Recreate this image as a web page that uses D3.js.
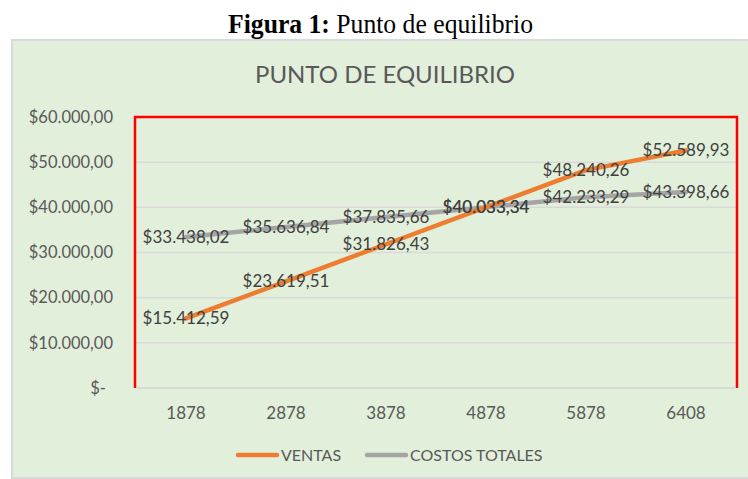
<!DOCTYPE html>
<html>
<head>
<meta charset="utf-8">
<script src="https://cdn.jsdelivr.net/npm/d3@7"></script>
<style>
  body { margin: 0; background: #fff; }
  svg { display: block; }
</style>
</head>
<body>
<div id="chart-area"></div>
<script>
// datos del grafico
var categories = ['1878', '2878', '3878', '4878', '5878', '6408'];
var ventas = [15412.59, 23619.51, 31826.43, 40033.34, 48240.26, 52589.93];
var costosTotales = [33438.02, 35636.84, 37835.66, 40033.34, 42233.29, 43398.66];
var yTicks = [0, 10000, 20000, 30000, 40000, 50000, 60000];
var seriesNames = ['VENTAS', 'COSTOS TOTALES'];

var W = 748, H = 479;
var plot = { left: 136, right: 736, top: 117, bottom: 388 };

var es = d3.formatLocale({ decimal: ',', thousands: '.', grouping: [3], currency: ['$', ''] });
var fmt = es.format('$,.2f');

var svg = d3.select('#chart-area')
    .append('svg')
    .attr('width', W)
    .attr('height', H);

// titulo de la figura
var fig = svg.append('text')
    .attr('x', 228)
    .attr('y', 33)
    .attr('textLength', 305)
    .attr('lengthAdjust', 'spacingAndGlyphs')
    .attr('font-family', 'Liberation Serif, Times New Roman, serif')
    .attr('font-size', '27px')
    .attr('fill', '#000');
fig.append('tspan').attr('font-weight', 'bold').text('Figura 1:');
fig.append('tspan').text(' Punto de equilibrio');

// fondo del grafico
svg.append('rect')
    .attr('x', 12)
    .attr('y', 40)
    .attr('width', W - 12 + 5)
    .attr('height', H - 40 - 1)
    .attr('fill', '#E2EFDA')
    .attr('stroke', '#D9D9D9')
    .attr('stroke-width', 2);

svg.append('text')
    .text('PUNTO DE EQUILIBRIO')
    .attr('x', 385)
    .attr('y', 83)
    .attr('text-anchor', 'middle')
    .attr('font-family', 'Lato, sans-serif')
    .attr('font-size', '24px')
    .attr('fill', '#595959');

var xScale = d3.scaleBand()
    .domain(categories)
    .range([plot.left, plot.right]);

var yScale = d3.scaleLinear()
    .domain([0, 60000])
    .range([plot.bottom, plot.top]);

// lineas de cuadricula
svg.append('g')
    .selectAll('line')
    .data(yTicks)
    .enter()
    .append('line')
    .attr('x1', plot.left)
    .attr('x2', plot.right)
    .attr('y1', function(d) { return yScale(d); })
    .attr('y2', function(d) { return yScale(d); })
    .attr('stroke', '#D9D9D9')
    .attr('stroke-width', 1.5);

// eje y
var yAxisCall = d3.axisLeft(yScale)
    .tickValues(yTicks)
    .tickSize(0)
    .tickPadding(0)
    .tickFormat(function(d) { return d === 0 ? '$-' : fmt(d); });

var yAxis = svg.append('g')
    .attr('transform', 'translate(113, 0)')
    .call(yAxisCall);
yAxis.select('.domain').remove();
yAxis.selectAll('text')
    .attr('font-family', 'Lato, sans-serif')
    .attr('font-size', '16.5px')
    .attr('fill', '#595959')
    .attr('x', function(d) { return d === 0 ? -7 : 0; });

// eje x
var xAxisCall = d3.axisBottom(xScale).tickSize(0);
var xAxis = svg.append('g')
    .attr('transform', 'translate(0, ' + plot.bottom + ')')
    .call(xAxisCall);
xAxis.select('.domain').remove();
xAxis.selectAll('text')
    .attr('y', 31)
    .attr('dy', null)
    .attr('font-family', 'Lato, sans-serif')
    .attr('font-size', '17px')
    .attr('fill', '#595959');

// borde rojo del area de trazado
svg.append('path')
    .attr('d', 'M' + (plot.left - 1) + ',' + plot.bottom + 'V' + plot.top + 'H' + (plot.right + 1) + 'V' + plot.bottom)
    .attr('fill', 'none')
    .attr('stroke', '#FF0000')
    .attr('stroke-width', 2.5);

svg.append('line')
    .attr('x1', plot.left)
    .attr('x2', plot.right)
    .attr('y1', plot.bottom)
    .attr('y2', plot.bottom)
    .attr('stroke', '#D9D9D9')
    .attr('stroke-width', 1.5);

var series = [
    { name: seriesNames[0], values: ventas, color: '#ED7D31' },
    { name: seriesNames[1], values: costosTotales, color: '#A5A5A5' }
];

var line = d3.line()
    .x(function(d, i) { return xScale(categories[i]) + xScale.bandwidth() / 2; })
    .y(function(d) { return yScale(d); });

// costos primero, ventas encima
svg.selectAll('path.serie')
    .data(series.slice().reverse())
    .enter()
    .append('path')
    .attr('class', 'serie')
    .attr('d', function(s) { return line(s.values); })
    .attr('fill', 'none')
    .attr('stroke', function(s) { return s.color; })
    .attr('stroke-width', 4.5)
    .attr('stroke-linecap', 'round')
    .attr('stroke-linejoin', 'round');

// etiquetas de datos
series.forEach(function(s) {
    svg.append('g')
        .selectAll('text')
        .data(s.values)
        .enter()
        .append('text')
        .text(function(d) { return fmt(d); })
        .attr('x', function(d, i) { return xScale(categories[i]) + xScale.bandwidth() / 2; })
        .attr('y', function(d) { return yScale(d); })
        .attr('dy', '0.35em')
        .attr('text-anchor', 'middle')
        .attr('font-family', 'Lato, sans-serif')
        .attr('font-size', '17px')
        .attr('fill', '#404040');
});

// leyenda
var legendX = [236, 365];
var legend = svg.append('g')
    .selectAll('g')
    .data(series)
    .enter()
    .append('g')
    .attr('transform', function(s, i) { return 'translate(' + legendX[i] + ', 455)'; });

legend.append('line')
    .attr('x1', 2)
    .attr('x2', 41)
    .attr('stroke', function(s) { return s.color; })
    .attr('stroke-width', 4.5)
    .attr('stroke-linecap', 'round');

legend.append('text')
    .text(function(s) { return s.name; })
    .attr('x', 45)
    .attr('dy', '0.35em')
    .attr('font-family', 'Lato, sans-serif')
    .attr('font-size', '16px')
    .attr('fill', '#595959');
</script>
</body>
</html>
